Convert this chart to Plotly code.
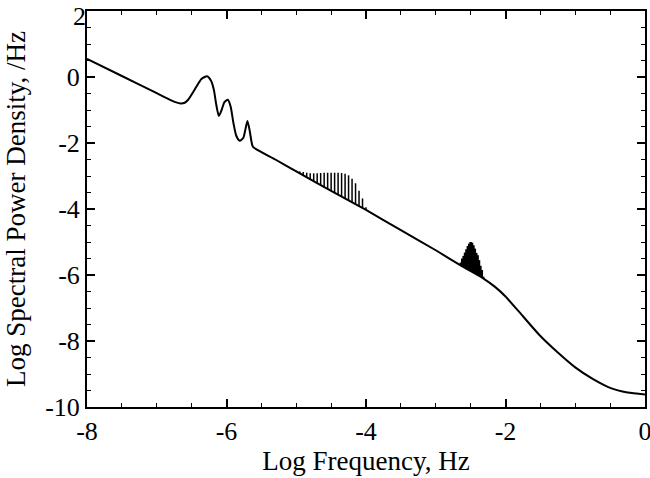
import numpy as np
import plotly.graph_objects as go

# Main spectrum (log10 frequency, log10 spectral power density)
curve_x = [-8.0, -7.5, -7.0, -6.8, -6.72, -6.66, -6.6, -6.55, -6.43, -6.36, -6.28, -6.22,
           -6.18, -6.15, -6.11, -6.07, -6.03, -5.98, -5.94, -5.90, -5.86, -5.81, -5.76,
           -5.73, -5.70, -5.67, -5.64, -5.62, -5.3, -5.0, -4.5, -4.0, -3.5, -3.0, -2.65,
           -2.32, -2.15, -2.0, -1.75, -1.5, -1.25, -1.0, -0.75, -0.5, -0.25, 0.0]
curve_y = [0.55, 0.03, -0.49, -0.7, -0.77, -0.8, -0.78, -0.69, -0.29, -0.06, 0.02, -0.12,
           -0.4, -0.8, -1.18, -1.0, -0.76, -0.69, -0.9, -1.4, -1.78, -1.93, -1.85,
           -1.6, -1.33, -1.6, -1.98, -2.12, -2.5, -2.86, -3.45, -4.03, -4.64, -5.25, -5.7,
           -6.1, -6.36, -6.65, -7.25, -7.85, -8.35, -8.8, -9.15, -9.42, -9.56, -9.62]

# Spike band 1 (x positions and spike tops)
band1_x = [-5.0, -4.95, -4.9, -4.85, -4.8, -4.75, -4.7, -4.65, -4.6, -4.55, -4.5, -4.45,
           -4.4, -4.35, -4.3, -4.25, -4.2, -4.15, -4.1, -4.05, -4.0]
band1_top = [-2.84, -2.86, -2.88, -2.9, -2.92, -2.92, -2.92, -2.91, -2.9, -2.9, -2.9, -2.9,
             -2.9, -2.91, -2.93, -2.98, -3.08, -3.22, -3.45, -3.68, -3.95]

# Spike band 2 (dense cluster)
band2_x = [-2.64, -2.62, -2.60, -2.58, -2.56, -2.54, -2.52, -2.50, -2.48, -2.46, -2.44,
           -2.42, -2.40, -2.38, -2.36, -2.34, -2.32]
band2_top = [-5.62, -5.5, -5.42, -5.32, -5.22, -5.12, -5.05, -5.0, -5.02, -5.1, -5.2,
             -5.33, -5.4, -5.55, -5.72, -5.85, -6.05]

x_ticks = [-8, -6, -4, -2, 0]
y_ticks = [-10, -8, -6, -4, -2, 0, 2]
y_top_tick = [2]


def spikes(xs, tops):
    base = np.interp(xs, curve_x, curve_y)
    sx, sy = [], []
    for x, b, t in zip(xs, base, tops):
        sx += [x, x, None]
        sy += [b, max(t, b), None]
    return sx, sy


fig = go.Figure()
fig.add_trace(go.Scatter(x=curve_x, y=curve_y, mode="lines",
                         line=dict(color="black", width=2, shape="spline", smoothing=0.6),
                         showlegend=False, hoverinfo="skip"))
s1x, s1y = spikes(band1_x, band1_top)
fig.add_trace(go.Scatter(x=s1x, y=s1y, mode="lines", line=dict(color="black", width=1.5),
                         showlegend=False, hoverinfo="skip"))
s2x, s2y = spikes(band2_x, band2_top)
fig.add_trace(go.Scatter(x=s2x, y=s2y, mode="lines", line=dict(color="black", width=2.5),
                         showlegend=False, hoverinfo="skip"))
# invisible traces that carry the mirrored (top/right) tick axes and the top label axis
fig.add_trace(go.Scatter(x=[x_ticks[0], x_ticks[-1]], y=[y_ticks[0], y_ticks[-1]],
                         xaxis="x2", yaxis="y2", mode="markers",
                         marker=dict(opacity=0), showlegend=False, hoverinfo="skip"))
fig.add_trace(go.Scatter(x=[x_ticks[0], x_ticks[-1]], y=[y_ticks[0], y_ticks[-1]],
                         xaxis="x", yaxis="y3", mode="markers",
                         marker=dict(opacity=0), showlegend=False, hoverinfo="skip"))

font = dict(family="Liberation Serif", size=26, color="black")
title_font = dict(family="Liberation Serif", size=27, color="black")
minor = dict(dtick=0.5, ticks="inside", ticklen=4, tickwidth=1.2, tickcolor="black")
common = dict(showgrid=False, zeroline=False, showline=True, linecolor="black",
              linewidth=2, ticks="inside", ticklen=8, tickwidth=1.5, tickcolor="black",
              minor=minor, automargin=False)

fig.update_layout(
    width=650, height=478, autosize=False,
    margin=dict(l=87, r=5, t=11, b=71),
    paper_bgcolor="white", plot_bgcolor="white",
    font=font,
    xaxis=dict(range=[-8, 0], tickvals=x_ticks, ticktext=[str(v) for v in x_ticks],
               tickfont=font, ticklabeloverflow="allow",
               title=dict(text="Log Frequency, Hz", font=title_font, standoff=2), **common),
    yaxis=dict(range=[-10, 2], tickvals=y_ticks,
               ticktext=[str(v) if v not in y_top_tick else "" for v in y_ticks],
               tickfont=font, ticklabeloverflow="allow",
               title=dict(text="Log Spectral Power Density, /Hz", font=title_font,
                          standoff=12),
               **common),
    yaxis3=dict(range=[-10, 2], tickvals=y_top_tick, ticktext=[str(v) for v in y_top_tick],
                overlaying="y", side="left", anchor="x", showline=False, ticks="",
                showgrid=False, zeroline=False, tickfont=font, ticklabelshift=5,
                ticklabeloverflow="allow", automargin=False),
    xaxis2=dict(range=[-8, 0], tickvals=x_ticks, overlaying="x", side="top", anchor="y2",
                showticklabels=False, **common),
    yaxis2=dict(range=[-10, 2], tickvals=y_ticks, overlaying="y", side="right", anchor="x2",
                showticklabels=False, **common),
)
fig.write_html("out.html", config={"responsive": False, "displayModeBar": False},
               post_script="document.body.style.margin='0';document.body.style.padding='0';")
